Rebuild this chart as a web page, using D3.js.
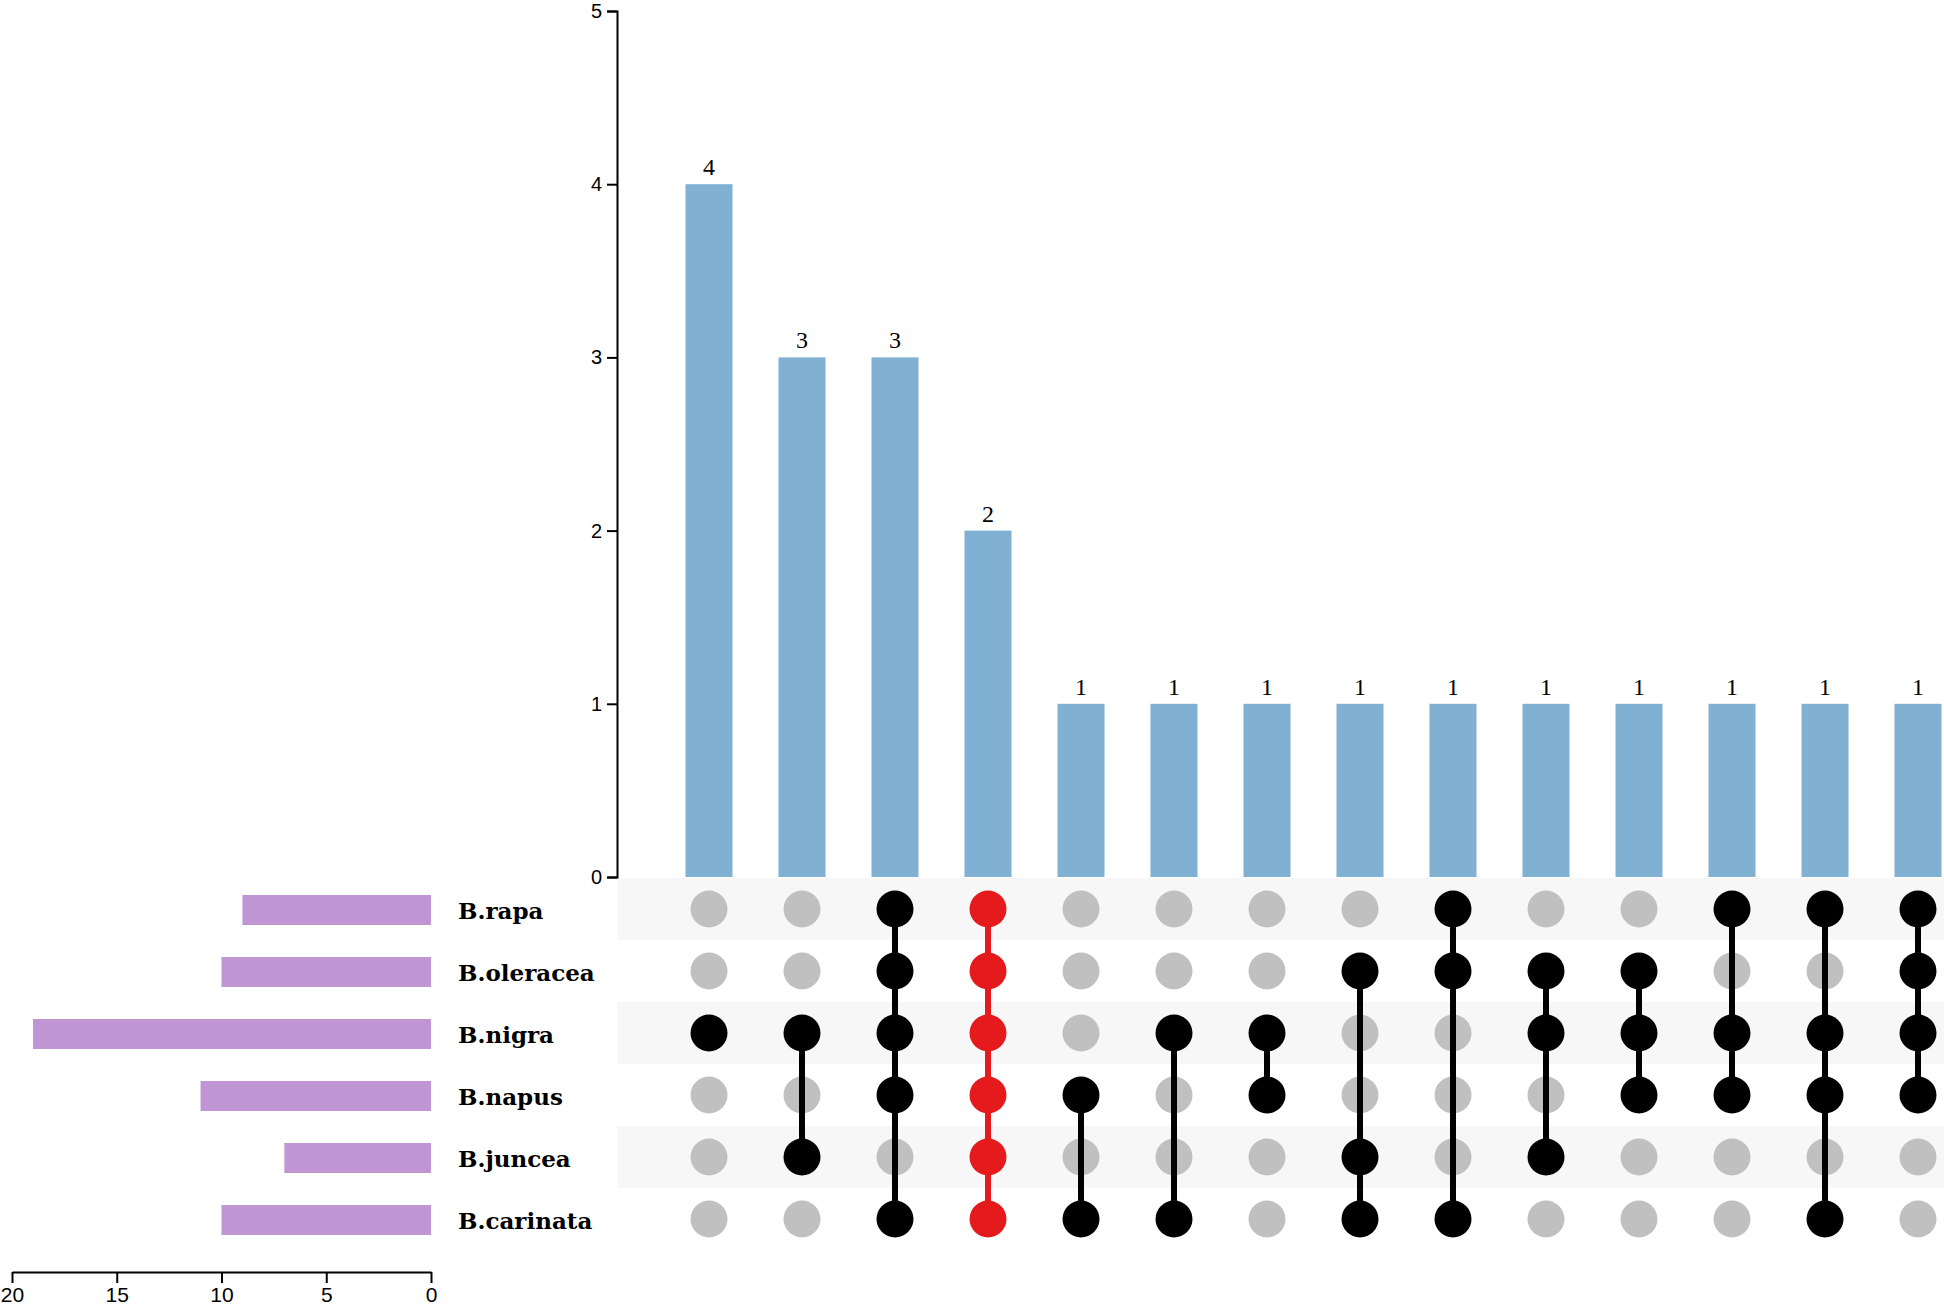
<!DOCTYPE html>
<html>
<head>
<meta charset="utf-8">
<script src="https://cdn.jsdelivr.net/npm/d3@7"></script>
<style>
  body { margin: 0; background: #fff; }
</style>
</head>
<body>
<div id="wrapper"></div>
<script>
// set names (matrix rows, top to bottom) and their sizes
const sets = ['B.rapa', 'B.oleracea', 'B.nigra', 'B.napus', 'B.juncea', 'B.carinata'];
const setSizes = [9, 10, 19, 11, 7, 10];

// intersections (matrix columns, left to right)
const intersectionSizes = [4, 3, 3, 2, 1, 1, 1, 1, 1, 1, 1, 1, 1, 1];
const intersectionMembers = [
	['B.nigra'],
	['B.nigra', 'B.juncea'],
	['B.rapa', 'B.oleracea', 'B.nigra', 'B.napus', 'B.carinata'],
	['B.rapa', 'B.oleracea', 'B.nigra', 'B.napus', 'B.juncea', 'B.carinata'],
	['B.napus', 'B.carinata'],
	['B.nigra', 'B.carinata'],
	['B.nigra', 'B.napus'],
	['B.oleracea', 'B.juncea', 'B.carinata'],
	['B.rapa', 'B.oleracea', 'B.carinata'],
	['B.oleracea', 'B.nigra', 'B.juncea'],
	['B.oleracea', 'B.nigra', 'B.napus'],
	['B.rapa', 'B.nigra', 'B.napus'],
	['B.rapa', 'B.nigra', 'B.napus', 'B.carinata'],
	['B.rapa', 'B.oleracea', 'B.nigra', 'B.napus'],
];
const highlighted = [3]; // drawn in red

const yTicks = [0, 1, 2, 3, 4, 5];
const sizeTicks = [0, 5, 10, 15, 20];

const width = 1944;
const height = 1309;

const dims = {
	axisX: 617,
	barBottom: 877,
	barTop: 11,
	firstCol: 709,
	lastCol: 1918,
	firstRow: 909,
	rowStep: 62,
	sizeAxisLeft: 12,
	sizeAxisRight: 431,
	sizeAxisY: 1272,
}

const svg = d3.select('#wrapper')
	.append('svg')
	.attr('width', width)
	.attr('height', height)

const cols = intersectionSizes.map((d, i) => i);

const xScale = d3.scalePoint()
	.domain(cols)
	.range([dims.firstCol, dims.lastCol]);

const yScale = d3.scaleLinear()
	.domain([0, 5])
	.range([dims.barBottom, dims.barTop]);

const rowScale = d3.scalePoint()
	.domain(sets)
	.range([dims.firstRow, dims.firstRow + dims.rowStep * (sets.length - 1)]);

const sizeScale = d3.scaleLinear()
	.domain([20, 0])
	.range([dims.sizeAxisLeft, dims.sizeAxisRight]);

const barWidth = 47;
const dotRadius = 18.5;

// alternating row stripes
svg.append('g')
	.selectAll('rect')
	.data(sets.filter((d, i) => i % 2 === 0))
	.enter().append('rect')
	.attr('x', dims.axisX)
	.attr('y', d => rowScale(d) - dims.rowStep / 2)
	.attr('width', width - dims.axisX)
	.attr('height', dims.rowStep)
	.attr('fill', '#f7f7f7')

// intersection bars
svg.append('g')
	.selectAll('rect')
	.data(cols)
	.enter().append('rect')
	.attr('x', d => xScale(d) - barWidth / 2)
	.attr('y', d => yScale(intersectionSizes[d]))
	.attr('width', barWidth)
	.attr('height', d => yScale(0) - yScale(intersectionSizes[d]))
	.attr('fill', '#80b1d3')

svg.append('g')
	.selectAll('text')
	.data(cols)
	.enter().append('text')
	.attr('x', d => xScale(d))
	.attr('y', d => yScale(intersectionSizes[d]) - 9)
	.text(d => intersectionSizes[d])
	.style('text-anchor', 'middle')
	.style('font-family', '"Liberation Serif", serif')
	.style('font-size', '24px')
	.attr('fill', '#000')

// y axis
const yAxis = svg.append('g')
	.attr('transform', `translate(${dims.axisX},0)`)
	.call(d3.axisLeft(yScale).tickValues(yTicks).tickFormat(d3.format('d')).tickSize(10).tickPadding(5))
yAxis.selectAll('path, line').attr('stroke', '#000').attr('stroke-width', 2)
yAxis.selectAll('text')
	.style('font-family', '"Liberation Sans", Arial, sans-serif')
	.style('font-size', '20px')
	.attr('fill', '#000')

// matrix: connecting lines
const colGroups = svg.append('g')
	.selectAll('g')
	.data(cols)
	.enter().append('g')

colGroups.filter(d => intersectionMembers[d].length > 1)
	.append('line')
	.attr('x1', d => xScale(d))
	.attr('x2', d => xScale(d))
	.attr('y1', d => d3.min(intersectionMembers[d], s => rowScale(s)))
	.attr('y2', d => d3.max(intersectionMembers[d], s => rowScale(s)))
	.attr('stroke', d => highlighted.includes(d) ? '#e41a1c' : '#000')
	.attr('stroke-width', 6)

// matrix: gray dots for non-members first, then members on top
colGroups.selectAll('circle.off')
	.data(d => sets.filter(s => !intersectionMembers[d].includes(s)).map(s => ({ col: d, set: s })))
	.enter().insert('circle', 'line')
	.attr('class', 'off')
	.attr('cx', d => xScale(d.col))
	.attr('cy', d => rowScale(d.set))
	.attr('r', dotRadius)
	.attr('fill', '#c0c0c0')

colGroups.selectAll('circle.on')
	.data(d => intersectionMembers[d].map(s => ({ col: d, set: s })))
	.enter().append('circle')
	.attr('class', 'on')
	.attr('cx', d => xScale(d.col))
	.attr('cy', d => rowScale(d.set))
	.attr('r', dotRadius)
	.attr('fill', d => highlighted.includes(d.col) ? '#e41a1c' : '#000')

// set labels
svg.append('g')
	.selectAll('text')
	.data(sets)
	.enter().append('text')
	.attr('x', 458)
	.attr('y', d => rowScale(d))
	.attr('dy', '0.45em')
	.text(d => d)
	.style('font-family', '"DejaVu Serif", serif')
	.style('font-weight', 'bold')
	.style('font-size', '23px')
	.attr('fill', '#000')

// set size bars
svg.append('g')
	.selectAll('rect')
	.data(sets)
	.enter().append('rect')
	.attr('x', (d, i) => sizeScale(setSizes[i]))
	.attr('y', d => rowScale(d) - 14)
	.attr('width', (d, i) => sizeScale(0) - sizeScale(setSizes[i]))
	.attr('height', 30)
	.attr('fill', '#bf96d3')

const sizeAxis = svg.append('g')
	.attr('transform', `translate(0,${dims.sizeAxisY})`)
	.call(d3.axisBottom(sizeScale).tickValues(sizeTicks).tickSize(11).tickSizeOuter(0).tickPadding(4))
sizeAxis.selectAll('path, line').attr('stroke', '#000').attr('stroke-width', 2)
sizeAxis.selectAll('text')
	.style('font-family', '"Liberation Sans", Arial, sans-serif')
	.style('font-size', '21px')
	.attr('fill', '#000')
</script>
</body>
</html>
